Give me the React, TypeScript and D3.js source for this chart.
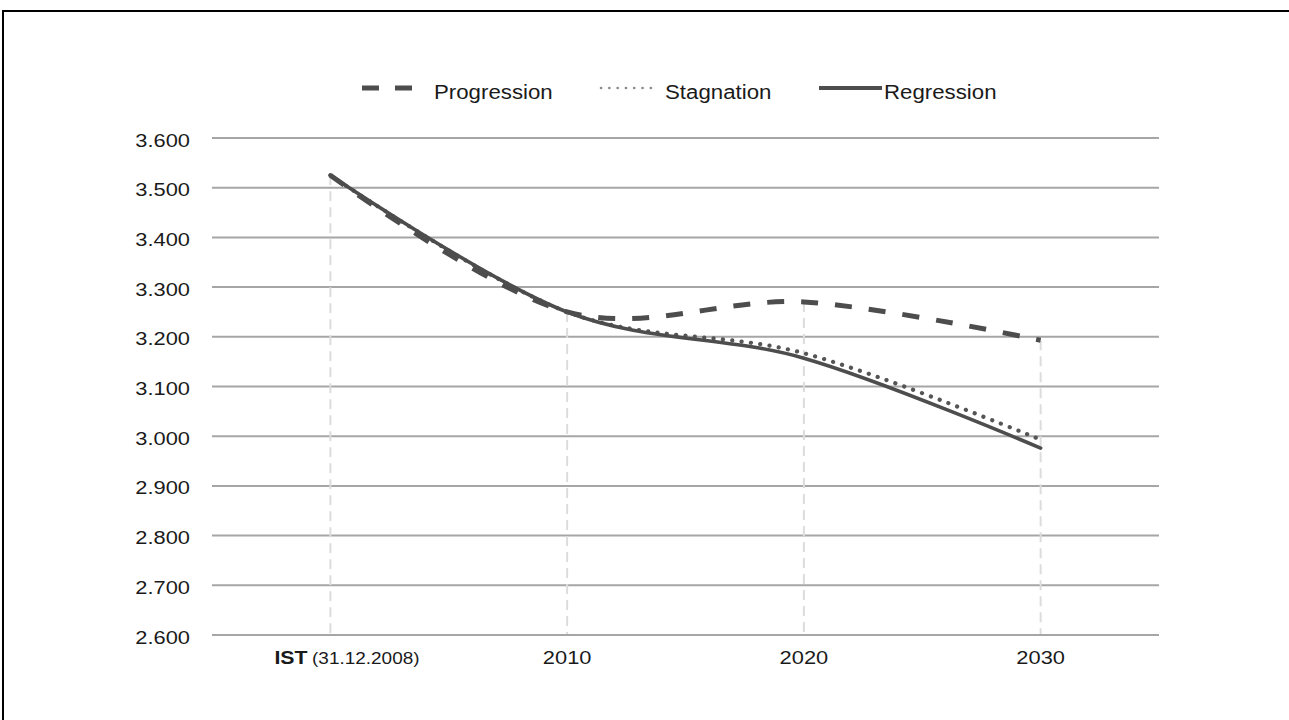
import React from "react";
import * as d3 from "d3";

const categories = ["IST (31.12.2008)", "2010", "2020", "2030"];
const progression = [3525, 3250, 3270, 3193];
const stagnation = [3525, 3250, 3167, 2993];
const regression = [3525, 3250, 3157, 2976];
const yTicks = [2600, 2700, 2800, 2900, 3000, 3100, 3200, 3300, 3400, 3500, 3600];
const seriesNames = ["Progression", "Stagnation", "Regression"];

const W = 1289;
const H = 720;
const FONT = "'Liberation Sans', Arial, sans-serif";
const SX = 1.15;
const TEXT = "#1a1a1a";
const LINE = "#4d4d4d";

export default function App() {
  const x = d3.scalePoint<string>().domain(categories).range([212, 1159]).padding(0.5);
  const y = d3.scaleLinear().domain([2600, 3600]).range([635, 138]);
  const fmt = d3.formatLocale({ decimal: ",", thousands: ".", grouping: [3], currency: ["", "€"] }).format(",");

  const line = d3
    .line<number>()
    .x((_, i) => x(categories[i]) as number)
    .y((d) => y(d))
    .curve(d3.curveCardinal.tension(0));

  const series = [
    { name: seriesNames[0], data: progression, dash: "17 17", width: 5, cap: "butt", color: LINE },
    { name: seriesNames[1], data: stagnation, dash: "0.1 9.3", width: 4.2, cap: "round", color: "#555" },
    { name: seriesNames[2], data: regression, dash: undefined, width: 3.6, cap: "round", color: LINE },
  ];

  const maxAt = categories.map((_, i) => Math.max(progression[i], stagnation[i], regression[i]));

  const T = (props: { x: number; y: number; anchor?: string; children: React.ReactNode; size?: number; sx?: number }) => (
    <g transform={`translate(${props.x},${props.y}) scale(${props.sx || SX},1)`}>
      <text x={0} y={0} textAnchor={props.anchor || "start"} fontFamily={FONT} fontSize={props.size || 19} fill={TEXT}>
        {props.children}
      </text>
    </g>
  );

  return (
    <svg width={W} height={H} style={{ position: "absolute", left: 0, top: 0, background: "#fff" }}>
      <rect x={0} y={0} width={W} height={H} fill="#fff" />
      <path d={`M3,${H} V11 H${W}`} fill="none" stroke="#000" strokeWidth={2} />

      {/* gridlines */}
      {yTicks.map((t) => (
        <line key={t} x1={212} x2={1159} y1={y(t)} y2={y(t)} stroke="#a6a6a6" strokeWidth={2} />
      ))}

      {/* drop lines */}
      {categories.map((c, i) => (
        <line
          key={c}
          x1={x(c)}
          x2={x(c)}
          y1={y(maxAt[i])}
          y2={y(2600) - 1}
          stroke="#dcdcdc"
          strokeWidth={2}
          strokeDasharray="10 6"
        />
      ))}

      {/* y tick labels */}
      {yTicks.map((t) => (
        <T key={t} x={190} y={y(t) + 8.5} anchor="end">
          {fmt(t)}
        </T>
      ))}

      {/* x labels */}
      {categories.map((c, i) =>
        i === 0 ? (
          <g key={c} transform={`translate(${(x(c) as number) - 56},${664}) scale(${SX},1)`}>
            <text fontFamily={FONT} fill={TEXT}>
              <tspan fontSize={18.5} fontWeight="bold">IST</tspan>
              <tspan fontSize={16.5} dx={4}>{c.replace("IST ", "")}</tspan>
            </text>
          </g>
        ) : (
          <T key={c} x={x(c) as number} y={664} anchor="middle">
            {c}
          </T>
        )
      )}

      {/* series */}
      {series.map((s) => (
        <path
          key={s.name}
          d={line(s.data) || ""}
          fill="none"
          stroke={s.color}
          strokeWidth={s.width}
          strokeDasharray={s.dash}
          strokeLinecap={s.cap as any}
          strokeLinejoin="round"
        />
      ))}

      {/* legend */}
      <line x1={362} x2={413} y1={88} y2={88} stroke={LINE} strokeWidth={5} strokeDasharray="17 16" />
      <T x={434} y={99} size={21} sx={1.06}>{seriesNames[0]}</T>
      <line x1={601} x2={659} y1={88} y2={88} stroke="#8a8a8a" strokeWidth={2.6} strokeDasharray="0.1 8.2" strokeLinecap="round" />
      <T x={665} y={99} size={21} sx={1.06}>{seriesNames[1]}</T>
      <line x1={819} x2={882} y1={88} y2={88} stroke={LINE} strokeWidth={4} />
      <T x={884} y={99} size={21} sx={1.06}>{seriesNames[2]}</T>
    </svg>
  );
}
